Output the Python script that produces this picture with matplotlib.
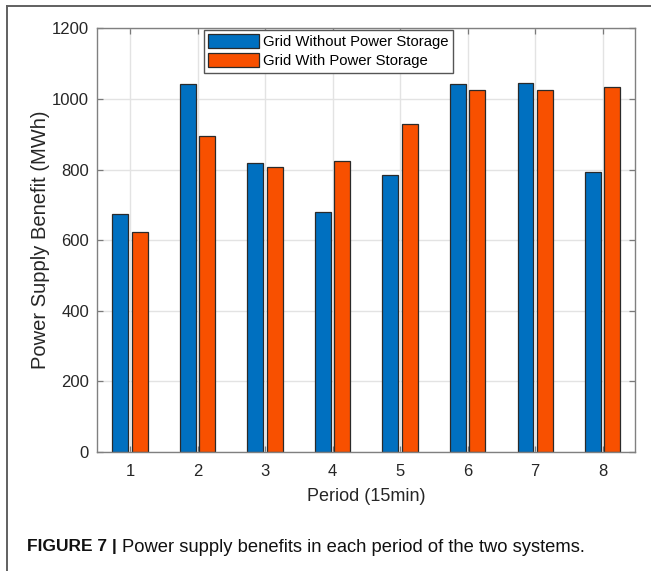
import matplotlib
matplotlib.use("Agg")
import matplotlib.pyplot as plt
import numpy as np
from matplotlib.lines import Line2D

plt.rcParams['font.family'] = ['Liberation Sans', 'DejaVu Sans']

periods = [1, 2, 3, 4, 5, 6, 7, 8]
without_storage = [674, 1042, 818, 681, 785, 1042, 1044, 792]
with_storage = [624, 895, 807, 823, 929, 1024, 1024, 1033]
series_labels = ["Grid Without Power Storage", "Grid With Power Storage"]
yticks = [0, 200, 400, 600, 800, 1000, 1200]

W, H = 651, 571
fig = plt.figure(figsize=(W / 100, H / 100), dpi=100)
ax = fig.add_axes([97.3 / W, 1 - 452 / H, (635 - 97.3) / W, (452 - 28.3) / H])

x = np.array(periods, dtype=float)
bw = 0.235
off = 0.143
blue = "#0070C0"
orange = "#F85000"
edge = "#2a2a2a"
b1 = ax.bar(x - off, without_storage, bw, color=blue, edgecolor=edge, linewidth=0.9,
            label=series_labels[0], zorder=3)
b2 = ax.bar(x + off, with_storage, bw, color=orange, edgecolor=edge, linewidth=0.9,
            label=series_labels[1], zorder=3)

ax.set_xlim(0.515, 8.48)
ax.set_ylim(0, 1200)
ax.set_xticks(periods)
ax.set_yticks(yticks)
ax.grid(True, color="#E3E3E3", linewidth=1.0, zorder=0)
ax.set_axisbelow(True)
ax.tick_params(direction='in', length=4, width=0.9, color="#7a7a7a",
               labelsize=12, labelcolor="#262626", top=True, right=True, pad=6)
ax.tick_params(axis='x', pad=9)
for s in ax.spines.values():
    s.set_color("#808080")
    s.set_linewidth(1.0)
    s.set_zorder(4)

ax.set_xlabel("Period (15min)", fontsize=13, color="#262626", labelpad=6)
ax.set_ylabel("Power Supply Benefit (MWh)", fontsize=14.5, color="#262626", labelpad=1)

leg = fig.legend(handles=[b1, b2], labels=series_labels, loc='upper left',
                 bbox_to_anchor=(204 / W, 1 - 30 / H), borderaxespad=0,
                 fontsize=10.7, handlelength=3.4, handleheight=1.0,
                 handletextpad=0.25, labelspacing=0.28, borderpad=0.3,
                 frameon=True, fancybox=False, framealpha=1, edgecolor="#555555")
leg.get_frame().set_linewidth(1.0)

# figure border (top and left)
fig.add_artist(Line2D([7.3 / W, 1.0], [1 - 6 / H, 1 - 6 / H], transform=fig.transFigure,
                      color="#606060", linewidth=1.4))
fig.add_artist(Line2D([7.3 / W, 7.3 / W], [0, 1 - 6 / H], transform=fig.transFigure,
                      color="#606060", linewidth=1.4))

# caption
t1 = fig.text(27 / W, 1 - 547 / H, "FIGURE 7 |", fontsize=12.5, fontweight='bold',
              va='center', ha='left', color="#111111")
fig.canvas.draw()
bb = t1.get_window_extent(renderer=fig.canvas.get_renderer())
fig.text((bb.x1 + 5) / W, 1 - 547 / H, "Power supply benefits in each period of the two systems.",
         fontsize=13.2, va='center', ha='left', color="#111111")

fig.savefig("out.png", dpi=100)
